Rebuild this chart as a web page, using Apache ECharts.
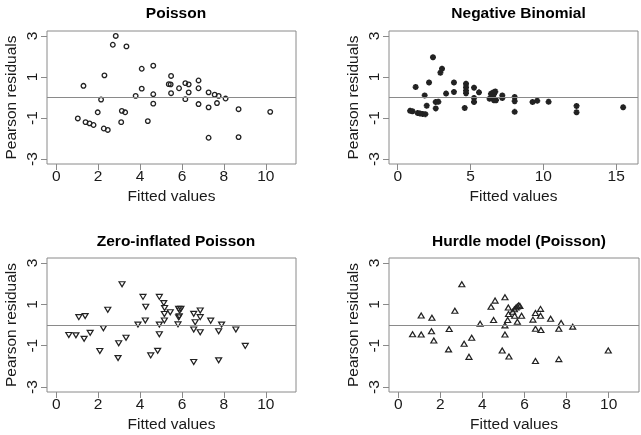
<!DOCTYPE html>
<html><head><meta charset="utf-8">
<script src="https://cdn.jsdelivr.net/npm/echarts@6/dist/echarts.min.js"></script>
<style>html,body{margin:0;padding:0;background:#fff}#c{width:641px;height:435px}</style>
</head><body><div id="c"></div>
<script>
const titles = ["Poisson", "Negative Binomial", "Zero-inflated Poisson", "Hurdle model (Poisson)"];
const xTicksA = [0, 2, 4, 6, 8, 10];
const xTicksNB = [0, 5, 10, 15];
const yTicks = [-3, -1, 1, 3];

const poissonX = [1.03,1.30,1.40,1.59,1.78,1.98,2.14,2.30,2.27,2.46,2.70,2.84,3.35,3.13,3.29,3.10,3.79,4.08,4.08,4.37,4.63,4.63,4.63,5.37,5.46,5.48,5.48,5.86,6.16,6.32,6.16,6.32,6.79,6.79,6.79,7.27,7.27,7.27,7.56,7.75,7.67,8.08,8.70,8.70,10.21];
const poissonY = [-1.02,0.57,-1.20,-1.26,-1.34,-0.72,-0.10,1.08,-1.51,-1.58,2.57,3.00,2.49,-0.65,-0.72,-1.20,0.08,1.40,0.43,-1.15,1.55,0.16,-0.30,0.65,0.64,1.05,0.21,0.45,0.70,0.64,-0.08,0.25,0.83,0.45,-0.32,0.25,-0.48,-1.96,0.14,0.08,-0.27,-0.05,-0.57,-1.93,-0.70];

const nbX = [0.85,1.01,1.23,1.37,1.53,1.72,1.90,1.85,1.99,2.15,2.42,2.61,2.79,2.61,2.93,3.04,3.32,3.86,3.86,4.60,4.69,4.69,4.69,4.69,5.24,5.24,5.24,5.58,6.31,6.43,6.52,6.61,6.70,6.75,6.61,6.40,6.56,7.18,7.18,8.03,8.03,8.03,9.26,9.58,10.36,12.28,12.28,15.48];
const nbY = [-0.65,-0.67,0.51,-0.76,-0.78,-0.80,-0.81,0.10,-0.40,0.73,1.96,-0.22,-0.21,-0.53,1.21,1.40,0.19,0.73,0.27,-0.51,0.67,0.51,0.35,0.21,0.48,-0.02,-0.22,0.25,-0.06,0.00,0.06,0.16,0.29,-0.13,-0.14,0.18,0.24,0.10,-0.03,0.02,-0.18,-0.70,-0.22,-0.16,-0.21,-0.41,-0.72,-0.48];

const zipX = [0.60,0.94,1.08,1.38,1.33,1.62,2.25,2.08,2.46,3.14,2.98,2.95,3.33,3.90,4.14,4.27,4.25,4.51,4.84,4.92,4.92,4.92,5.13,5.17,5.16,5.16,5.44,5.84,5.95,5.89,5.87,5.84,5.81,6.56,6.87,6.87,6.63,7.37,6.56,6.87,7.89,7.75,8.57,9.02,6.56,7.75];
const zipY = [-0.48,-0.50,0.38,0.43,-0.67,-0.38,-0.16,-1.26,0.74,1.97,-0.88,-1.60,-0.62,0.02,1.36,0.88,0.22,-1.47,-1.25,1.36,0.02,-0.45,1.06,0.82,0.53,0.22,0.62,0.78,0.78,0.70,0.42,0.37,0.03,0.54,0.70,0.38,0.13,0.21,-0.22,-0.35,0.02,-0.30,-0.22,-1.01,-1.79,-1.71];

const hurdleX = [3.02,5.07,4.60,4.41,5.23,2.69,1.09,1.60,5.24,4.53,5.20,3.89,5.07,2.42,1.58,0.68,1.09,5.07,3.49,1.69,3.13,2.39,4.94,3.36,5.26,5.44,5.52,5.60,5.66,5.72,5.78,5.53,5.86,5.66,6.76,6.52,6.76,6.40,7.24,7.74,6.52,6.78,7.63,8.29,9.98,6.52,7.63];
const hurdleY = [1.97,1.34,1.18,0.88,0.85,0.69,0.46,0.35,0.53,0.24,0.24,0.06,-0.02,-0.19,-0.30,-0.45,-0.46,-0.46,-0.62,-0.75,-0.91,-1.18,-1.23,-1.54,-1.52,0.64,0.76,0.85,0.90,0.95,0.92,0.45,0.45,0.16,0.78,0.58,0.45,0.26,0.30,0.10,-0.18,-0.24,-0.18,-0.08,-1.23,-1.74,-1.65];

const zip = (xs, ys) => xs.map((x, i) => [x, ys[i]]);
const FONT = "'Liberation Sans', Arial, sans-serif";
const TXT = '#1a1a1a';
const GRAY = '#8a8a8a';

const grids = [
  {left: 47, top: 31, width: 249, height: 133},
  {left: 389, top: 31, width: 249, height: 133},
  {left: 47, top: 258, width: 249, height: 134},
  {left: 389, top: 258, width: 250, height: 134}
].map(g => Object.assign({show: true, borderColor: GRAY, borderWidth: 1, backgroundColor: 'transparent'}, g));

const xRanges = [[-0.44, 11.44], [-0.6, 16.5], [-0.44, 11.44], [-0.44, 11.44]];
const xTickSets = [xTicksA, xTicksNB, xTicksA, xTicksA];

const xAxes = grids.map((g, i) => ({
  type: 'value', gridIndex: i, min: xRanges[i][0], max: xRanges[i][1], position: 'bottom',
  axisLine: {show: false, onZero: false}, splitLine: {show: false},
  axisTick: {show: true, inside: false, customValues: xTickSets[i], length: 6, lineStyle: {color: GRAY}},
  axisLabel: {customValues: xTickSets[i], margin: 5, color: TXT, fontSize: 15.5, fontFamily: FONT},
  name: 'Fitted values', nameLocation: 'middle', nameGap: 25,
  nameTextStyle: {color: TXT, fontSize: 15.5, fontFamily: FONT}
}));
const yAxes = grids.map((g, i) => ({
  type: 'value', gridIndex: i, min: -3.24, max: 3.24, position: 'left',
  axisLine: {show: false, onZero: false}, splitLine: {show: false},
  axisTick: {show: true, inside: false, customValues: yTicks, length: 6, lineStyle: {color: GRAY}},
  axisLabel: {customValues: yTicks, rotate: 90, margin: 6, color: TXT, fontSize: 15.5, fontFamily: FONT, align: 'center', verticalAlign: 'bottom'},
  name: 'Pearson residuals', nameLocation: 'middle', nameGap: 27,
  nameTextStyle: {color: TXT, fontSize: 15.5, fontFamily: FONT}
}));

const titleCenters = [[171, 1], [513.5, 1], [171, 228.5], [514, 228.5]];
const title = titles.map((t, i) => ({
  text: t, left: titleCenters[i][0], top: titleCenters[i][1], textAlign: 'center',
  textStyle: {fontFamily: FONT, fontWeight: 'bold', fontSize: 15.5, color: '#000'}
}));

const zeroLine = {silent: true, symbol: 'none', label: {show: false},
  lineStyle: {color: GRAY, width: 1, type: 'solid'}, data: [{yAxis: 0}], animation: false};

const STROKE = '#222';
const asterisk = 'path://M0,5L10,5M5,0L5,10M1.5,1.5L8.5,8.5M8.5,1.5L1.5,8.5';
const series = [
  {type: 'scatter', xAxisIndex: 0, yAxisIndex: 0, data: zip(poissonX, poissonY), symbol: 'circle', symbolSize: 4.6,
   itemStyle: {color: 'rgba(0,0,0,0)', borderColor: STROKE, borderWidth: 1.3, opacity: 1}, markLine: zeroLine},
  {type: 'scatter', xAxisIndex: 1, yAxisIndex: 1, data: zip(nbX, nbY), symbol: asterisk, symbolSize: 6,
   itemStyle: {color: 'rgba(0,0,0,0)', borderColor: STROKE, borderWidth: 1.8, opacity: 1}, markLine: zeroLine},
  {type: 'scatter', xAxisIndex: 2, yAxisIndex: 2, data: zip(zipX, zipY), symbol: 'triangle', symbolSize: [6, 5], symbolRotate: 180,
   itemStyle: {color: 'rgba(0,0,0,0)', borderColor: STROKE, borderWidth: 1.2, opacity: 1}, markLine: zeroLine},
  {type: 'scatter', xAxisIndex: 3, yAxisIndex: 3, data: zip(hurdleX, hurdleY), symbol: 'triangle', symbolSize: [6, 5],
   itemStyle: {color: 'rgba(0,0,0,0)', borderColor: STROKE, borderWidth: 1.2, opacity: 1}, markLine: zeroLine}
];

const chart = echarts.init(document.getElementById('c'), null, {renderer: 'canvas'});
chart.setOption({animation: false, backgroundColor: '#fff', title, grid: grids, xAxis: xAxes, yAxis: yAxes, series});
</script></body></html>
